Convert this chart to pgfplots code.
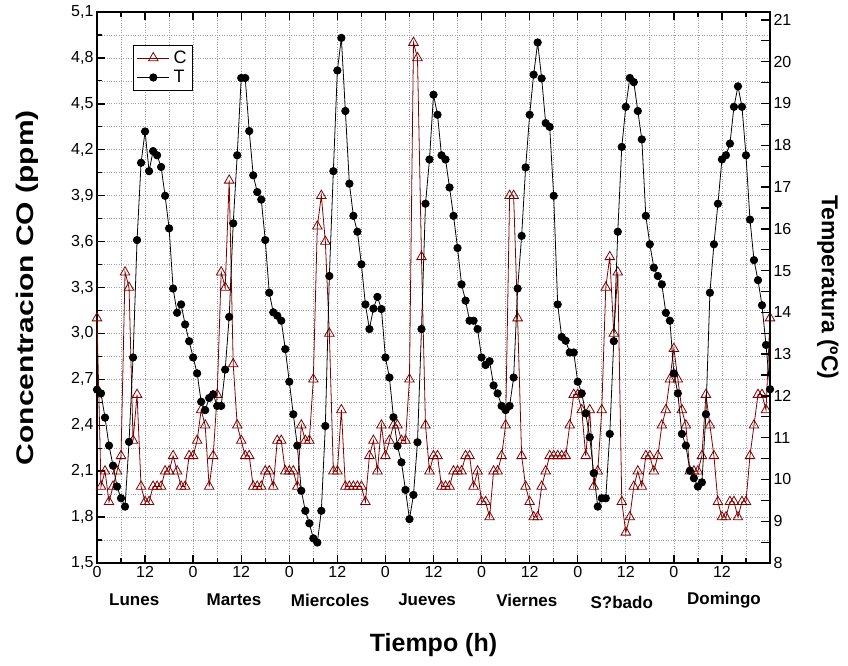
\documentclass[border=0pt]{standalone}
\usepackage{fontspec}
\setmainfont{Liberation Sans}
\usepackage{pgfplots}
\usepackage{pgfplotstable}
\pgfplotsset{compat=1.18}
\definecolor{wine}{RGB}{128,0,0}
\definecolor{gridgray}{RGB}{160,160,160}

\pgfplotstableread[row sep=\\]{
h C T \\
0 3.1 12.15 \\ 1 2.0 12.06 \\ 2 2.1 11.48 \\ 3 1.9 10.81 \\ 4 2.0 10.33 \\ 5 2.1 9.83 \\
6 2.2 9.55 \\ 7 3.4 9.35 \\ 8 3.3 10.90 \\ 9 2.3 12.92 \\ 10 2.6 15.73 \\ 11 2.0 17.58 \\
12 1.9 18.33 \\ 13 1.9 17.38 \\ 14 2.0 17.86 \\ 15 2.0 17.76 \\ 16 2.0 17.48 \\ 17 2.1 16.79 \\
18 2.1 16.01 \\ 19 2.2 14.57 \\ 20 2.1 13.99 \\ 21 2.0 14.19 \\ 22 2.0 13.71 \\ 23 2.2 13.31 \\
24 2.2 12.92 \\ 25 2.3 12.54 \\ 26 2.5 11.86 \\ 27 2.4 11.66 \\ 28 2.0 11.95 \\ 29 2.2 12.04 \\
30 2.6 11.76 \\ 31 3.4 11.76 \\ 32 3.3 12.63 \\ 33 4.0 13.89 \\ 34 2.8 16.13 \\ 35 2.4 17.76 \\
36 2.3 19.61 \\ 37 2.2 19.61 \\ 38 2.2 18.34 \\ 39 2.0 17.28 \\ 40 2.0 16.88 \\ 41 2.0 16.70 \\
42 2.1 15.73 \\ 43 2.1 14.47 \\ 44 2.0 14.00 \\ 45 2.3 13.92 \\ 46 2.3 13.80 \\ 47 2.1 13.12 \\
48 2.1 12.34 \\ 49 2.1 11.56 \\ 50 2.0 10.81 \\ 51 2.4 9.73 \\ 52 2.3 9.25 \\ 53 2.3 8.95 \\
54 2.7 8.59 \\ 55 3.7 8.49 \\ 56 3.9 9.25 \\ 57 3.6 11.28 \\ 58 3.0 14.87 \\ 59 2.1 17.38 \\
60 2.1 19.79 \\ 61 2.5 20.57 \\ 62 2.0 18.82 \\ 63 2.0 17.08 \\ 64 2.0 16.31 \\ 65 2.0 15.93 \\
66 2.0 15.15 \\ 67 1.9 14.19 \\ 68 2.2 13.60 \\ 69 2.3 14.09 \\ 70 2.1 14.37 \\ 71 2.4 14.08 \\
72 2.2 12.92 \\ 73 2.3 12.44 \\ 74 2.4 11.49 \\ 75 2.4 10.80 \\ 76 2.3 10.41 \\ 77 2.3 9.75 \\
78 2.7 9.05 \\ 79 4.9 9.63 \\ 80 4.8 10.89 \\ 81 3.5 13.60 \\ 82 2.4 16.60 \\ 83 2.1 17.66 \\
84 2.2 19.21 \\ 85 2.2 18.73 \\ 86 2.0 17.76 \\ 87 2.0 17.66 \\ 88 2.0 16.99 \\ 89 2.1 16.31 \\
90 2.1 15.54 \\ 91 2.1 14.67 \\ 92 2.2 14.28 \\ 93 2.2 13.80 \\ 94 2.0 13.80 \\ 95 2.1 13.60 \\
96 1.9 12.92 \\ 97 1.9 12.74 \\ 98 1.8 12.83 \\ 99 2.1 12.25 \\ 100 2.1 12.06 \\ 101 2.2 11.76 \\
102 2.4 11.66 \\ 103 3.9 11.76 \\ 104 3.9 12.44 \\ 105 3.1 14.57 \\ 106 2.2 15.83 \\ 107 2.0 17.47 \\
108 1.9 18.73 \\ 109 1.8 19.69 \\ 110 1.8 20.46 \\ 111 2.0 19.60 \\ 112 2.1 18.53 \\ 113 2.2 18.44 \\
114 2.2 16.79 \\ 115 2.2 14.19 \\ 116 2.2 13.41 \\ 117 2.2 13.32 \\ 118 2.4 13.04 \\ 119 2.6 13.04 \\
120 2.6 12.34 \\ 121 2.5 12.06 \\ 122 2.2 11.58 \\ 123 2.5 11.01 \\ 124 2.0 10.15 \\ 125 2.1 9.35 \\
126 2.5 9.55 \\ 127 3.3 9.55 \\ 128 3.5 11.09 \\ 129 3.0 13.31 \\ 130 3.4 15.93 \\ 131 1.9 17.96 \\
132 1.7 18.92 \\ 133 1.8 19.61 \\ 134 2.0 19.51 \\ 135 2.1 18.82 \\ 136 2.0 18.14 \\ 137 2.2 16.31 \\
138 2.2 15.63 \\ 139 2.1 15.07 \\ 140 2.2 14.87 \\ 141 2.4 14.67 \\ 142 2.5 13.99 \\ 143 2.7 13.80 \\
144 2.9 12.54 \\ 145 2.7 12.06 \\ 146 2.5 11.09 \\ 147 2.4 10.81 \\ 148 2.1 10.21 \\ 149 2.1 10.03 \\
150 2.1 9.83 \\ 151 2.2 9.93 \\ 152 2.6 11.56 \\ 153 2.4 14.47 \\ 154 2.2 15.63 \\ 155 1.9 16.60 \\
156 1.8 17.66 \\ 157 1.8 17.76 \\ 158 1.9 18.04 \\ 159 1.9 18.92 \\ 160 1.8 19.41 \\ 161 1.9 18.92 \\
162 1.9 17.76 \\ 163 2.2 16.22 \\ 164 2.4 15.25 \\ 165 2.6 14.77 \\ 166 2.6 14.17 \\ 167 2.5 13.22 \\
168 3.1 12.16 \\
}\datatable

\pgfplotsset{
  base/.style={
    at={(0pt,0pt)}, anchor=south west,
    width=673pt, height=551pt, scale only axis,
    xmin=0, xmax=168,
    tick align=inside,
    major tick length=8pt, minor tick length=5pt,
    every tick/.style={black, line width=1.4pt},
    every minor tick/.style={black, line width=1.2pt},
    axis line style={line width=1.6pt},
    tick label style={font=\fontsize{16}{19}\selectfont},
    /pgf/number format/assume math mode=true,
  }
}

\begin{document}
\begin{tikzpicture}
\useasboundingbox (-97pt,-103pt) rectangle (751pt,563pt);
\begin{axis}[base,
  clip=false,
  ymin=1.5, ymax=5.1,
  xtick={0,12,...,156},
  xticklabels={0,12,0,12,0,12,0,12,0,12,0,12,0,12},
  minor xtick={6,18,...,162},
  xtick pos=both, xticklabel pos=lower,
  ytick={1.5,1.8,2.1,2.4,2.7,3.0,3.3,3.6,3.9,4.2,4.5,4.8,5.1},
  minor ytick={1.65,1.95,2.25,2.55,2.85,3.15,3.45,3.75,4.05,4.35,4.65,4.95},
  ytick pos=left,
  yticklabel style={/pgf/number format/.cd, fixed, fixed zerofill, precision=1, use comma},
  grid=both,
  major grid style={gridgray, dotted, line width=0.7pt},
  minor grid style={gridgray, dotted, line width=0.7pt},
  xlabel={Tiempo (h)},
  xlabel style={font=\bfseries\fontsize{25}{30}\selectfont, at={(axis description cs:0.5,-0.149)}, anchor=center},
  ylabel={\scalebox{1.25}[1]{Concentracion CO (ppm)}},
  ylabel style={font=\bfseries\fontsize{24}{29}\selectfont, at={(axis description cs:-0.104,0.5)}, anchor=center},
]
\addplot[wine, line width=0.8pt, mark=triangle, mark size=5.5pt, mark options={fill=white, solid, line width=0.8pt}] table[x=h, y=C] {\datatable};
\node[font=\bfseries\fontsize{17}{20}\selectfont, yshift=-37pt] at (axis cs:9.3,1.5) {Lunes};
\node[font=\bfseries\fontsize{17}{20}\selectfont, yshift=-37pt] at (axis cs:34.2,1.5) {Martes};
\node[font=\bfseries\fontsize{17}{20}\selectfont, yshift=-37pt] at (axis cs:58.2,1.5) {Miercoles};
\node[font=\bfseries\fontsize{17}{20}\selectfont, yshift=-37pt] at (axis cs:82.4,1.5) {Jueves};
\node[font=\bfseries\fontsize{17}{20}\selectfont, yshift=-37pt] at (axis cs:107.3,1.5) {Viernes};
\node[font=\bfseries\fontsize{17}{20}\selectfont, yshift=-39pt] at (axis cs:131.0,1.5) {S?bado};
\node[font=\bfseries\fontsize{17}{20}\selectfont, yshift=-37pt] at (axis cs:156.5,1.5) {Domingo};
\end{axis}
\begin{axis}[base,
  ymin=8, ymax=21.19,
  axis y line*=right, axis x line=none,
  ytick={8,9,...,21},
  minor ytick={8.5,9.5,...,20.5},
  major tick length=9pt, minor tick length=9pt,
  ylabel={Temperatura (ºC)},
  ylabel style={font=\bfseries\fontsize{23}{28}\selectfont, at={(axis description cs:1.086,0.5)}, anchor=center, rotate=180},
  legend style={at={(0.0535,0.94)}, anchor=north west, draw=black, line width=0.8pt,
    font=\fontsize{18}{21}\selectfont, inner sep=3.5pt, row sep=1.5pt, column sep=2pt, cells={anchor=west}},
  legend image code/.code={\draw[#1, mark repeat=2, mark phase=2] plot coordinates {(0pt,0pt) (16pt,0pt) (32pt,0pt)};},
]
\addlegendimage{wine, line width=0.8pt, mark=triangle, mark size=5.5pt, mark options={fill=white, solid, line width=0.8pt}}
\addlegendentry{C}
\addplot[black, line width=0.8pt, mark=*, mark size=3.7pt, mark options={fill=black}] table[x=h, y=T] {\datatable};
\addlegendentry{T}
\end{axis}
\end{tikzpicture}
\end{document}
